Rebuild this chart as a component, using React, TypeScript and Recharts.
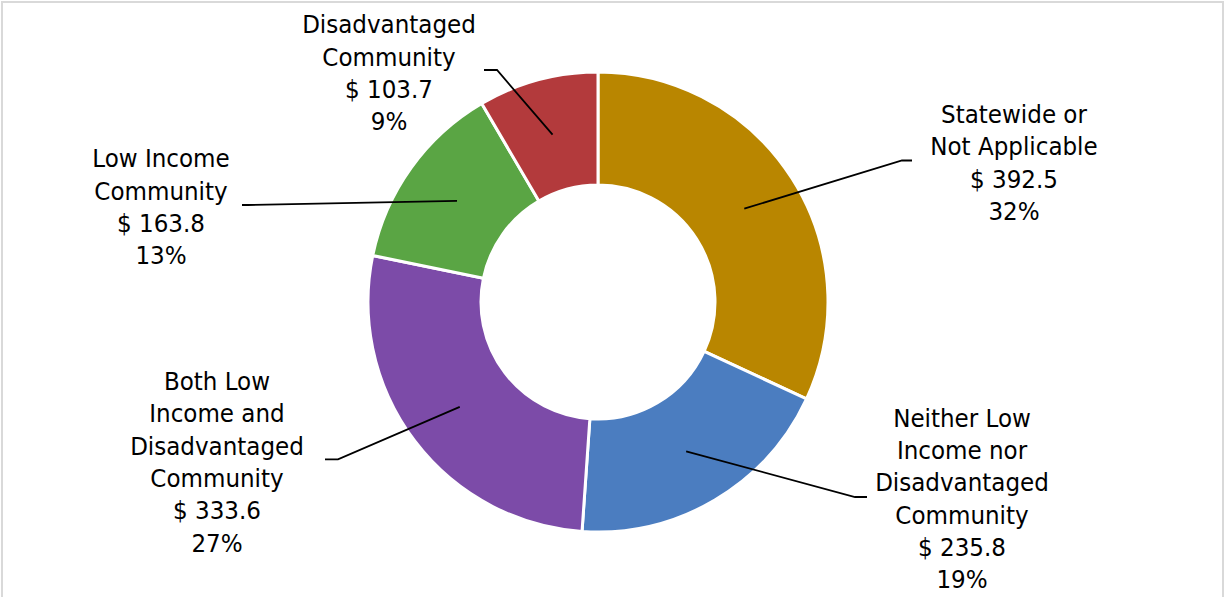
import React from 'react';
import { PieChart, Pie, Cell } from 'recharts';

// Funding by community type ($ millions)
const categories = [
  'Statewide or Not Applicable',
  'Neither Low Income nor Disadvantaged Community',
  'Both Low Income and Disadvantaged Community',
  'Low Income Community',
  'Disadvantaged Community',
];
const amounts = [392.5, 235.8, 333.6, 163.8, 103.7];
const percentLabels = ['32%', '19%', '27%', '13%', '9%'];
const labelLines = [
  ['Statewide or', 'Not Applicable'],
  ['Neither Low', 'Income nor', 'Disadvantaged', 'Community'],
  ['Both Low', 'Income and', 'Disadvantaged', 'Community'],
  ['Low Income', 'Community'],
  ['Disadvantaged', 'Community'],
];

const COLORS = ['#B98600', '#4B7DC0', '#7C4BA8', '#5AA544', '#B33A3C'];

// label placement relative to pie centre: leader elbow, leader end, text (x, first baseline)
const LABEL_LAYOUT = [
  { elbow: [304, -141.5], end: [314, -141.5], text: [416, -179] },
  { elbow: [257, 195], end: [269, 195], text: [364, 124.7] },
  { elbow: [-260, 157.3], end: [-273, 157.3], text: [-381, 88] },
  { elbow: [-350, -97], end: [-356, -97], text: [-437, -134.7] },
  { elbow: [-101, -232], end: [-114, -232], text: [-209, -268.7] },
];

const LINE_H = 32.3;
const FONT = '"DejaVu Sans Condensed", "DejaVu Sans", sans-serif';

const data = categories.map((name, i) => ({ name, value: amounts[i] }));

const RAD = Math.PI / 180;

const renderLabel = (props: any) => {
  const { cx, cy, midAngle, innerRadius, outerRadius, index } = props;
  const layout = LABEL_LAYOUT[index];
  const r = (innerRadius + outerRadius) / 2;
  const ax = cx + r * Math.cos(-midAngle * RAD);
  const ay = cy + r * Math.sin(-midAngle * RAD);
  const ex = cx + layout.elbow[0];
  const ey = cy + layout.elbow[1];
  const tx = cx + layout.end[0];
  const ty = cy + layout.end[1];
  const lines = [...labelLines[index], `$ ${amounts[index].toFixed(1)}`, percentLabels[index]];
  return (
    <g key={`lbl-${index}`}>
      <path d={`M${ax},${ay}L${ex},${ey}L${tx},${ty}`} stroke="#000" strokeWidth={1.8} fill="none" />
      <text
        x={cx + layout.text[0]}
        y={cy + layout.text[1]}
        textAnchor="middle"
        fill="#000"
        style={{ fontFamily: FONT, fontSize: 25.6 }}
      >
        {lines.map((l, k) => (
          <tspan key={k} x={cx + layout.text[0]} y={cy + layout.text[1] + k * LINE_H}>
            {l}
          </tspan>
        ))}
      </text>
    </g>
  );
};

export default function App() {
  return (
    <div
      style={{
        position: 'absolute',
        left: 0,
        top: 0,
        width: 1225,
        height: 597,
        overflow: 'hidden',
        background: '#fff',
      }}
    >
      <div
        style={{
          position: 'absolute',
          left: 1,
          top: 1,
          width: 1223,
          height: 700,
          border: '2px solid #d9d9d9',
          boxSizing: 'border-box',
        }}
      />
      <PieChart
        width={1225}
        height={597}
        margin={{ top: 0, right: 0, bottom: 0, left: 0 }}
        style={{ position: 'absolute', left: 0, top: 0 }}
      >
        <Pie
          data={data}
          dataKey="value"
          nameKey="name"
          cx={598}
          cy={302}
          innerRadius={117}
          outerRadius={230}
          startAngle={90}
          endAngle={-270}
          stroke="#fff"
          strokeWidth={3}
          label={renderLabel}
          labelLine={false}
          isAnimationActive={false}
        >
          {data.map((_, i) => (
            <Cell key={`cell-${i}`} fill={COLORS[i]} />
          ))}
        </Pie>
      </PieChart>
    </div>
  );
}
